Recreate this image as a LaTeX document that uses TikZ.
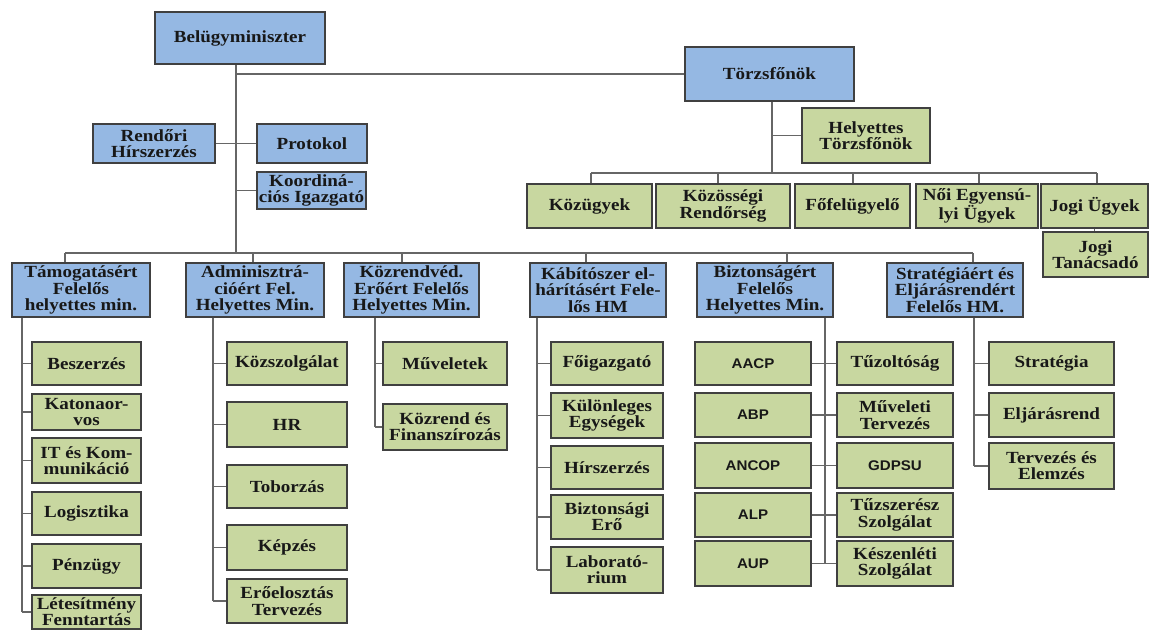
\documentclass[tikz,border=0pt]{standalone}
\usepackage{fontspec}
\setmainfont{Liberation Serif}[FakeStretch=1.12]
\newfontfamily\acrfont{Liberation Sans}[FakeStretch=1.08]
\definecolor{bluefill}{HTML}{95B8E3}
\definecolor{greenfill}{HTML}{C8D7A0}
\definecolor{boxline}{HTML}{404040}
\definecolor{linec}{HTML}{666666}
\definecolor{txt}{HTML}{181818}
\begin{document}
\begin{tikzpicture}[x=1pt,y=-1pt,
  box/.style={draw=boxline, line width=1.3pt, inner sep=0pt, align=center,
    font=\bfseries\fontsize{17}{16.3}\selectfont, text=txt},
  bluebox/.style={box, fill=bluefill},
  greenbox/.style={box, fill=greenfill},
  acr/.style={greenbox, font=\acrfont\bfseries\fontsize{14}{15}\selectfont},
  sz/.style 2 args={minimum width=#1pt, minimum height=#2pt},
  link/.style={draw=linec, line width=1.3pt}]
\fill[white] (0,0) rectangle (1150,630);
\useasboundingbox (0,0) rectangle (1150,630);

% top level
\node[bluebox, sz={170}{52}] (bm) at (240,38) {Belügyminiszter};
\node[bluebox, sz={169}{54}] (tf) at (769.5,74) {Törzsfőnök};
\node[bluebox, sz={122}{39}] (rh) at (154,143.5) {Rendőri\\Hírszerzés};
\node[bluebox, sz={110}{39}] (pr) at (312,143.5) {Protokol};
\node[bluebox, sz={109}{37}] (ko) at (311.5,190.5) {Koordiná-\\ciós Igazgató};

% chief of staff branch
\node[greenbox, sz={128}{55}] (ht) at (866,135.5) {Helyettes\\Törzsfőnök};
\node[greenbox, sz={125}{44}] (ku) at (589.5,206) {Közügyek};
\node[greenbox, sz={134}{44}] (kz) at (723,206) {Közösségi\\Rendőrség};
\node[greenbox, sz={115}{44}] (ff) at (852.5,206) {Főfelügyelő};
\node[greenbox, sz={122}{44}] (ne) at (977,206) {Női Egyensú-\\lyi Ügyek};
\node[greenbox, sz={107}{44}] (ju) at (1094.5,206) {Jogi Ügyek};
\node[greenbox, sz={105}{45}] (jt) at (1095.5,254.5) {Jogi\\Tanácsadó};

% deputy ministers
\node[bluebox, sz={138}{54}] (ta) at (81,290) {Támogatásért\\Felelős\\helyettes min.};
\node[bluebox, sz={138}{54}] (ad) at (255,290) {Adminisztrá-\\cióért Fel.\\Helyettes Min.};
\node[bluebox, sz={135}{54}] (kr) at (411.5,290) {Közrendvéd.\\Erőért Felelős\\Helyettes Min.};
\node[bluebox, sz={136}{54}] (ka) at (598,290) {Kábítószer el-\\hárításért Fele-\\lős HM};
\node[bluebox, sz={136}{54}] (bi) at (765,290) {Biztonságért\\Felelős\\Helyettes Min.};
\node[bluebox, sz={136}{54}] (st) at (955,290) {Stratégiáért és\\Eljárásrendért\\Felelős HM.};

% Támogatás children
\node[greenbox, sz={109}{43}] (ta1) at (86.5,363.5) {Beszerzés};
\node[greenbox, sz={109}{36}] (ta2) at (86.5,412) {Katonaor-\\vos};
\node[greenbox, sz={109}{45}] (ta3) at (86.5,460.5) {IT és Kom-\\munikáció};
\node[greenbox, sz={109}{43}] (ta4) at (86.5,513.5) {Logisztika};
\node[greenbox, sz={109}{44}] (ta5) at (86.5,566) {Pénzügy};
\node[greenbox, sz={109}{34}] (ta6) at (86.5,612) {Létesítmény\\Fenntartás};

% Adminisztráció children
\node[greenbox, sz={120}{43}] (ad1) at (287,363.5) {Közszolgálat};
\node[greenbox, sz={120}{45}] (ad2) at (287,424.5) {HR};
\node[greenbox, sz={120}{43}] (ad3) at (287,486.5) {Toborzás};
\node[greenbox, sz={120}{45}] (ad4) at (287,547.5) {Képzés};
\node[greenbox, sz={120}{44}] (ad5) at (287,601) {Erőelosztás\\Tervezés};

% Közrendvéd children
\node[greenbox, sz={124}{43}] (kr1) at (445,363.5) {Műveletek};
\node[greenbox, sz={124}{46}] (kr2) at (445,427) {Közrend és\\Finanszírozás};

% Kábítószer children
\node[greenbox, sz={112}{43}] (ka1) at (607,363.5) {Főigazgató};
\node[greenbox, sz={112}{45}] (ka2) at (607,415.5) {Különleges\\Egységek};
\node[greenbox, sz={112}{43}] (ka3) at (607,467.5) {Hírszerzés};
\node[greenbox, sz={112}{44}] (ka4) at (607,517) {Biztonsági\\Erő};
\node[greenbox, sz={112}{46}] (ka5) at (607,570) {Laborató-\\rium};

% Biztonság children
\node[acr, sz={116}{43}] (bl1) at (753,363.5) {AACP};
\node[acr, sz={116}{44}] (bl2) at (753,415) {ABP};
\node[acr, sz={116}{45}] (bl3) at (753,465.5) {ANCOP};
\node[acr, sz={116}{44}] (bl4) at (753,515) {ALP};
\node[acr, sz={116}{45}] (bl5) at (753,563.5) {AUP};
\node[greenbox, sz={116}{43}] (br1) at (895,363.5) {Tűzoltóság};
\node[greenbox, sz={116}{44}] (br2) at (895,415) {Műveleti\\Tervezés};
\node[acr, sz={116}{45}] (br3) at (895,465.5) {GDPSU};
\node[greenbox, sz={116}{44}] (br4) at (895,515) {Tűzszerész\\Szolgálat};
\node[greenbox, sz={116}{45}] (br5) at (895,563.5) {Készenléti\\Szolgálat};

% Stratégia children
\node[greenbox, sz={125}{43}] (st1) at (1051.5,363.5) {Stratégia};
\node[greenbox, sz={125}{44}] (st2) at (1051.5,415) {Eljárásrend};
\node[greenbox, sz={125}{46}] (st3) at (1051.5,466) {Tervezés és\\Elemzés};

% ---- connectors ----
\coordinate (trunk) at (236,253);
\draw[link] (bm.south -| trunk) -- (trunk);
\draw[link] (trunk |- tf.west) -- (tf.west);
\draw[link] (rh.east) -- (pr.west);
\draw[link] (trunk |- ko.west) -- (ko.west);

% main bus
\coordinate (b1) at (65,253);
\coordinate (b2) at (253,253);
\coordinate (b3) at (402,253);
\coordinate (b4) at (586,253);
\coordinate (b5) at (787,253);
\coordinate (b6) at (973,253);
\draw[link] (b1) -- (b6);
\draw[link] (b1) -- (b1 |- ta.north);
\draw[link] (b2) -- (b2 |- ad.north);
\draw[link] (b3) -- (b3 |- kr.north);
\draw[link] (b4) -- (b4 |- ka.north);
\draw[link] (b5) -- (b5 |- bi.north);
\draw[link] (b6) -- (b6 |- st.north);

% chief of staff bus
\coordinate (tv) at (772,173);
\draw[link] (tf.south -| tv) -- (tv);
\draw[link] (tv |- ht.west) -- (ht.west);
\coordinate (c1) at (591,173);
\coordinate (c2) at (718,173);
\coordinate (c3) at (853,173);
\coordinate (c4) at (979,173);
\coordinate (c5) at (1097,173);
\draw[link] (c1) -- (c5);
\draw[link] (c1) -- (c1 |- ku.north);
\draw[link] (c2) -- (c2 |- kz.north);
\draw[link] (c3) -- (c3 |- ff.north);
\draw[link] (c4) -- (c4 |- ne.north);
\draw[link] (c5) -- (c5 |- ju.north);
\draw[link] (ju.south) -- (ju.south |- jt.north);

% column verticals
\coordinate (va) at (22,0);
\draw[link] (ta.south -| va) -- (va |- ta6.west);
\foreach \n in {ta1,ta2,ta3,ta4,ta5,ta6} \draw[link] (va |- \n.west) -- (\n.west);

\coordinate (vb) at (213,0);
\draw[link] (ad.south -| vb) -- (vb |- ad5.west);
\foreach \n in {ad1,ad2,ad3,ad4,ad5} \draw[link] (vb |- \n.west) -- (\n.west);

\coordinate (vc) at (375,0);
\draw[link] (kr.south -| vc) -- (vc |- kr2.west);
\foreach \n in {kr1,kr2} \draw[link] (vc |- \n.west) -- (\n.west);

\coordinate (vd) at (537,0);
\draw[link] (ka.south -| vd) -- (vd |- ka5.west);
\foreach \n in {ka1,ka2,ka3,ka4,ka5} \draw[link] (vd |- \n.west) -- (\n.west);

\coordinate (ve) at (825,0);
\draw[link] (bi.south -| ve) -- (ve |- bl5.east);
\foreach \i in {1,...,5} \draw[link] (bl\i.east) -- (br\i.west);

\coordinate (vf) at (974,0);
\draw[link] (st.south -| vf) -- (vf |- st3.west);
\foreach \n in {st1,st2,st3} \draw[link] (vf |- \n.west) -- (\n.west);
\end{tikzpicture}
\end{document}
